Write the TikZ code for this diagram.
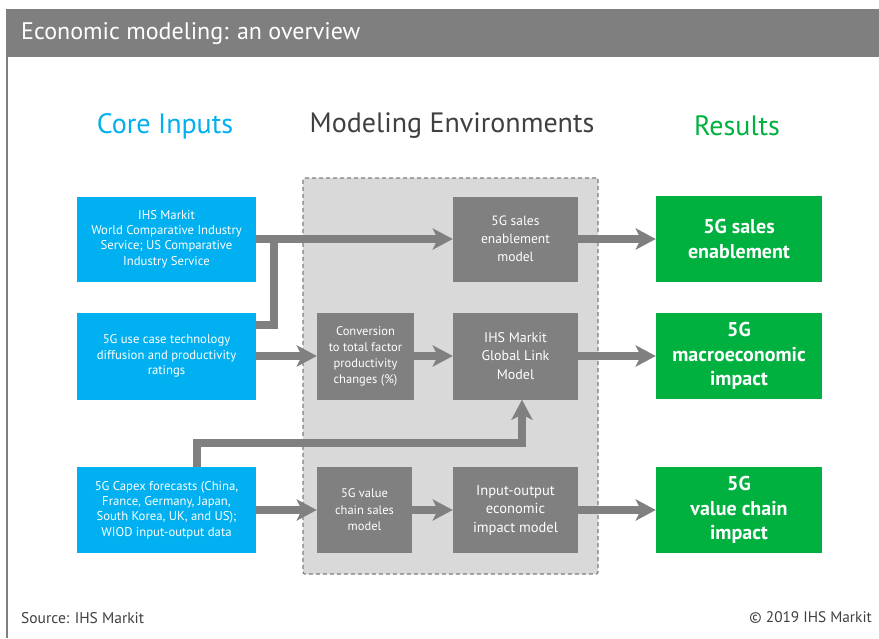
\documentclass[tikz,border=0pt]{standalone}
\usepackage{fontspec}
\setmainfont{PT Sans}
\usetikzlibrary{arrows.meta}
\definecolor{hdrgray}{HTML}{7F7F7F}
\definecolor{boxgray}{HTML}{808080}
\definecolor{envfill}{HTML}{D9D9D9}
\definecolor{inblue}{HTML}{00B0F0}
\definecolor{resgreen}{HTML}{00B140}
\definecolor{darktext}{HTML}{404040}
\begin{document}
\begin{tikzpicture}[x=1pt,y=-1pt,
  inbox/.style={fill=inblue, text=white, inner sep=0pt, minimum width=179pt, align=center, font=\fontsize{12.7}{15.3}\selectfont},
  modbox/.style={fill=boxgray, text=white, inner sep=0pt, align=center},
  resbox/.style={fill=resgreen, text=white, inner sep=0pt, minimum width=166pt, minimum height=86pt, align=center, font=\bfseries\fontsize{20}{24.5}\selectfont},
  garrow/.style={draw=boxgray, line width=8pt, -{Stealth[length=20pt,width=21pt,inset=5pt]}},
  gline/.style={draw=boxgray, line width=8pt},
  heading/.style={font=\fontsize{28}{32}\selectfont},
  envbox/.style={draw=hdrgray, fill=envfill, line width=1.2pt, dash pattern=on 4pt off 3pt, rounded corners=2pt, inner sep=0pt},
]
\useasboundingbox (0,0) rectangle (879,638);
\fill[white] (0,0) rectangle (879,638);
% header and frame
\fill[hdrgray] (6,9) rectangle (879,57);
\draw[hdrgray, line width=2pt] (7,57) -- (7,638);
\node[anchor=west, text=white, font=\fontsize{24}{28}\selectfont, inner sep=0pt] (title) at (21,33.5) {Economic modeling: an overview};
% headings
\node[heading, text=inblue] (hin) at (165,126) {Core Inputs};
\node[heading, text=darktext] (henv) at (452,126) {Modeling Environments};
\node[heading, text=resgreen] (hres) at (737,126) {Results};
% environment region
\node[envbox, minimum width=295pt, minimum height=396pt] (env) at (450.5,376) {};
% inputs
\node[inbox, minimum height=85pt] (b1) at (166.5,239) {IHS Markit\\World Comparative Industry\\Service; US Comparative\\Industry Service};
\node[inbox, minimum height=87pt] (b2) at (166.5,356) {5G use case technology\\diffusion and productivity\\ratings};
\node[inbox, minimum height=86pt] (b3) at (166.5,510) {5G Capex forecasts (China,\\France, Germany, Japan,\\South Korea, UK, and US);\\WIOD input-output data};
% models
\node[modbox, minimum width=125pt, minimum height=85pt, font=\fontsize{13.5}{18}\selectfont] (sm) at (515.5,239) {5G sales\\enablement\\model};
\node[modbox, minimum width=97pt, minimum height=87pt, font=\fontsize{12.5}{16}\selectfont] (cv) at (365.5,356) {Conversion\\to total factor\\productivity\\changes (\%)};
\node[modbox, minimum width=125pt, minimum height=87pt, font=\fontsize{14}{18.5}\selectfont] (gl) at (515.5,356) {IHS Markit\\Global Link\\Model};
\node[modbox, minimum width=95pt, minimum height=86pt, font=\fontsize{12.5}{16.5}\selectfont] (vc) at (364.5,510) {5G value\\chain sales\\model};
\node[modbox, minimum width=125pt, minimum height=86pt, font=\fontsize{14.5}{18.5}\selectfont] (io) at (515.5,510) {Input-output\\economic\\impact model};
% results
\node[resbox] (r1) at (739,239) {5G sales\\enablement};
\node[resbox] (r2) at (739,356) {5G\\macroeconomic\\impact};
\node[resbox] (r3) at (739,510) {5G\\value chain\\impact};
% connectors
\coordinate (join) at (274,239);
\draw[gline] ([yshift=-12.5pt]b2.north east) -| (join);
\draw[garrow] (b1.east) -- (sm.west);
\draw[garrow] (b2.east) -- (cv.west);
\draw[garrow] (cv.east) -- (gl.west);
\draw[garrow] ([xshift=30pt]b3.north) -- ++(0,-24) -| ([xshift=6.5pt]gl.south);
\draw[garrow] (b3.east) -- (vc.west);
\draw[garrow] (vc.east) -- (io.west);
\draw[garrow] (sm.east) -- (r1.west);
\draw[garrow] (gl.east) -- (r2.west);
\draw[garrow] (io.east) -- (r3.west);
% footer
\node[anchor=west, text=darktext, font=\fontsize{15.5}{17}\selectfont, inner sep=0pt] (src) at (21,618) {Source: IHS Markit};
\node[anchor=east, text=darktext, font=\fontsize{15.3}{17}\selectfont, inner sep=0pt] (copy) at (872,618) {© 2019 IHS Markit};
\end{tikzpicture}
\end{document}
